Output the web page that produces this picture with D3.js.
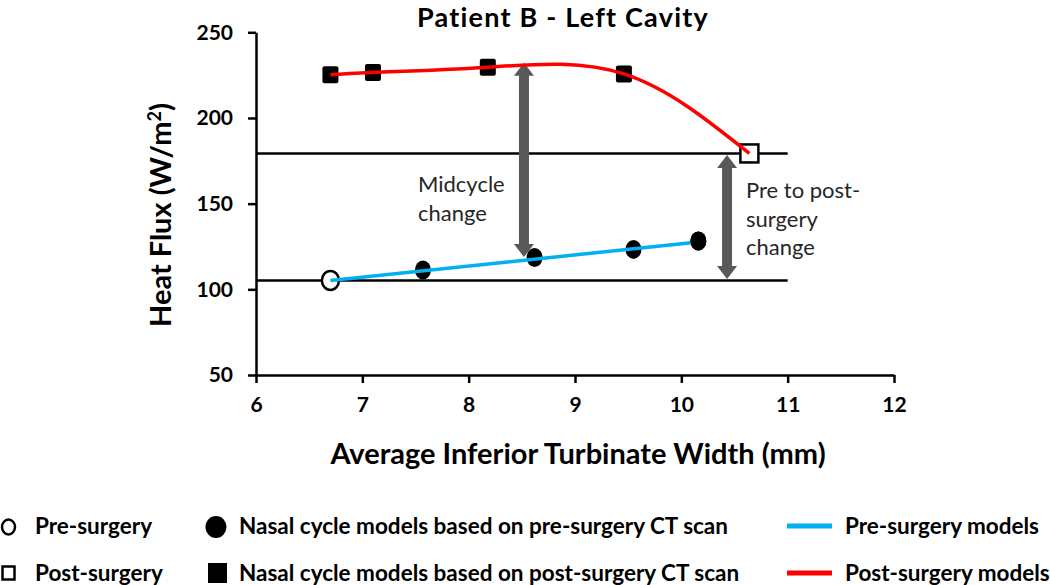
<!DOCTYPE html>
<html>
<head>
<meta charset="utf-8">
<script src="https://cdn.jsdelivr.net/npm/d3@7"></script>
<style>
  body { margin: 0; background: white; }
  svg { font-family: Lato, "Open Sans", sans-serif; }
  .axis path, .axis line { stroke: black; stroke-width: 2.5; }
  .axis text { font-family: Lato, "Open Sans", sans-serif; font-size: 21px; font-weight: bold; fill: black; }
  .note { font-size: 22px; fill: #262626; }
  .legend text { font-size: 22.5px; font-weight: bold; fill: black; }
  .title { font-size: 27px; font-weight: bold; letter-spacing: 1.2px; }
  .label { font-size: 29px; font-weight: bold; }
</style>
</head>
<body>
<svg id="chart"></svg>
<script>
// axis ticks
var xTicks = [6, 7, 8, 9, 10, 11, 12];
var yTicks = [50, 100, 150, 200, 250];

// pre-surgery (open circle) and post-surgery (open square)
var preSurgery = [6.7, 105.2];
var postSurgery = [10.64, 179.3];

// nasal cycle models, pre-surgery CT (filled circles)
var preModelX = [7.57, 8.62, 9.55, 10.16];
var preModelY = [111.3, 118.6, 123.3, 128.2];

// nasal cycle models, post-surgery CT (filled squares)
var postModelX = [6.7, 7.1, 8.18, 9.46];
var postModelY = [225.2, 226.6, 229.6, 225.7];

// pre-surgery models trend line (blue)
var blueLineX = [6.7, 10.16];
var blueLineY = [105.2, 127.6];

// reference lines at pre and post surgery levels
var refLevels = [105.2, 179.3];
var refEndX = 11;

// double arrows: x, from, to
var arrowX = [8.52, 10.43];
var arrowFrom = [118.8, 106];
var arrowTo = [232.2, 178.4];

var legendRow1 = ["Pre-surgery", "Nasal cycle models based on pre-surgery CT scan", "Pre-surgery models"];
var legendRow2 = ["Post-surgery", "Nasal cycle models based on post-surgery CT scan", "Post-surgery models"];

var screen = {width: 1050, height: 585};
var svg = d3.select("svg#chart")
    .attr("width", screen.width)
    .attr("height", screen.height);

var xScale = d3.scaleLinear().domain([6, 12]).range([256, 894]);
var yScale = d3.scaleLinear().domain([50, 250]).range([375, 32.3]);

// axes
svg.append("g")
    .classed("axis", true)
    .attr("transform", "translate(0," + yScale(50) + ")")
    .call(d3.axisBottom(xScale).tickValues(xTicks).tickFormat(d3.format("d"))
        .tickSize(8).tickSizeOuter(0).tickPadding(14));
svg.append("g")
    .classed("axis", true)
    .attr("transform", "translate(" + xScale(6) + ",0)")
    .call(d3.axisLeft(yScale).tickValues(yTicks).tickSize(8).tickSizeOuter(0).tickPadding(15));

// title and axis labels
svg.append("text")
    .classed("title", true)
    .text("Patient B - Left Cavity")
    .attr("x", 563).attr("y", 27)
    .attr("text-anchor", "middle");

svg.append("text")
    .classed("label", true)
    .text("Average Inferior Turbinate Width (mm)")
    .attr("x", 578).attr("y", 464)
    .attr("text-anchor", "middle");

var yLab = svg.append("text")
    .classed("label", true)
    .attr("transform", "translate(171,215) rotate(-90)")
    .attr("text-anchor", "middle");
yLab.append("tspan").text("Heat Flux (W/m");
yLab.append("tspan").text("2").attr("dy", -10).style("font-size", "18px");
yLab.append("tspan").text(")").attr("dy", 10);

// reference lines
svg.selectAll("line.ref")
    .data(refLevels)
    .enter()
    .append("line")
    .classed("ref", true)
    .attr("x1", xScale(6)).attr("x2", xScale(refEndX))
    .attr("y1", function(d) { return yScale(d); })
    .attr("y2", function(d) { return yScale(d); })
    .attr("stroke", "black").attr("stroke-width", 2.5);

// double-headed arrows
var arrowPath = function(i) {
    var x = xScale(arrowX[i]);
    var yb = yScale(arrowFrom[i]), yt = yScale(arrowTo[i]);
    var sw = 5, hw = 10, hl = 13;
    return "M" + x + "," + yt +
        "L" + (x + hw) + "," + (yt + hl) +
        "L" + (x + sw) + "," + (yt + hl) +
        "L" + (x + sw) + "," + (yb - hl) +
        "L" + (x + hw) + "," + (yb - hl) +
        "L" + x + "," + yb +
        "L" + (x - hw) + "," + (yb - hl) +
        "L" + (x - sw) + "," + (yb - hl) +
        "L" + (x - sw) + "," + (yt + hl) +
        "L" + (x - hw) + "," + (yt + hl) + "Z";
};
svg.selectAll("path.arrow")
    .data(arrowX)
    .enter()
    .append("path")
    .classed("arrow", true)
    .attr("d", function(d, i) { return arrowPath(i); })
    .attr("fill", "#595959");

// annotations
var note1 = svg.append("text").classed("note", true).attr("x", 418).attr("y", 192);
note1.append("tspan").text("Midcycle").attr("x", 418);
note1.append("tspan").text("change").attr("x", 418).attr("dy", 29);

var note2 = svg.append("text").classed("note", true).attr("x", 746).attr("y", 198);
note2.append("tspan").text("Pre to post-").attr("x", 746);
note2.append("tspan").text("surgery").attr("x", 746).attr("dy", 28.5);
note2.append("tspan").text("change").attr("x", 746).attr("dy", 28.5);

// filled circles
svg.selectAll("ellipse.preModel")
    .data(preModelX)
    .enter()
    .append("ellipse")
    .classed("preModel", true)
    .attr("cx", function(d) { return xScale(d); })
    .attr("cy", function(d, i) { return yScale(preModelY[i]); })
    .attr("rx", 8).attr("ry", 9.5)
    .attr("fill", "black");

// pre-surgery open circle
svg.append("ellipse")
    .attr("cx", xScale(preSurgery[0]))
    .attr("cy", yScale(preSurgery[1]))
    .attr("rx", 8.5).attr("ry", 9.5)
    .attr("fill", "white")
    .attr("stroke", "black").attr("stroke-width", 2.5);

// blue line
var blueData = blueLineX.map(function(x, i) { return [x, blueLineY[i]]; });
svg.append("path")
    .datum(blueData)
    .attr("d", d3.line()
        .x(function(d) { return xScale(d[0]); })
        .y(function(d) { return yScale(d[1]); }))
    .attr("fill", "none")
    .attr("stroke", "#00B0F0")
    .attr("stroke-width", 3.5);

// redraw the last filled circle above the line end
svg.append("ellipse")
    .attr("cx", xScale(preModelX[3]))
    .attr("cy", yScale(preModelY[3]))
    .attr("rx", 8).attr("ry", 9.5)
    .attr("fill", "black");

// red curve through post-surgery model points to post-surgery
var redData = postModelX.map(function(x, i) { return [x, postModelY[i]]; });
redData.push(postSurgery);

// filled squares
svg.selectAll("rect.postModel")
    .data(redData.slice(0, postModelX.length))
    .enter()
    .append("rect")
    .classed("postModel", true)
    .attr("x", function(d) { return xScale(d[0]) - 8; })
    .attr("y", function(d) { return yScale(d[1]) - 8.5; })
    .attr("width", 16).attr("height", 17)
    .attr("rx", 2)
    .attr("fill", "black");

// post-surgery open square
svg.append("rect")
    .attr("x", xScale(postSurgery[0]) - 9)
    .attr("y", yScale(postSurgery[1]) - 9)
    .attr("width", 18).attr("height", 18)
    .attr("fill", "white")
    .attr("stroke", "black").attr("stroke-width", 2.5);

svg.append("path")
    .datum(redData)
    .attr("d", d3.line()
        .x(function(d) { return xScale(d[0]); })
        .y(function(d) { return yScale(d[1]); })
        .curve(d3.curveNatural))
    .attr("fill", "none")
    .attr("stroke", "#FF0000")
    .attr("stroke-width", 3.5);

// legend
var legend = svg.append("g").classed("legend", true);
var rowY = [534, 581];
var colX = [35, 239, 845];

legend.selectAll("text.r1")
    .data(legendRow1)
    .enter()
    .append("text")
    .attr("x", function(d, i) { return colX[i]; })
    .attr("y", rowY[0])
    .text(function(d) { return d; });
legend.selectAll("text.r2")
    .data(legendRow2)
    .enter()
    .append("text")
    .attr("x", function(d, i) { return colX[i]; })
    .attr("y", rowY[1])
    .text(function(d) { return d; });

legend.append("ellipse")
    .attr("cx", 8.5).attr("cy", 527).attr("rx", 6.5).attr("ry", 7.5)
    .attr("fill", "white").attr("stroke", "black").attr("stroke-width", 2.5);
legend.append("ellipse")
    .attr("cx", 216).attr("cy", 527).attr("rx", 10.5).attr("ry", 11)
    .attr("fill", "black");
legend.append("rect")
    .attr("x", 2.5).attr("y", 566.5).attr("width", 12).attr("height", 13)
    .attr("fill", "white").attr("stroke", "black").attr("stroke-width", 2.5);
legend.append("rect")
    .attr("x", 208).attr("y", 563).attr("width", 19).attr("height", 20)
    .attr("fill", "black");
legend.append("line")
    .attr("x1", 787).attr("x2", 832).attr("y1", 526).attr("y2", 526)
    .attr("stroke", "#00B0F0").attr("stroke-width", 5);
legend.append("line")
    .attr("x1", 787).attr("x2", 832).attr("y1", 573).attr("y2", 573)
    .attr("stroke", "#FF0000").attr("stroke-width", 5);
</script>
</body>
</html>
